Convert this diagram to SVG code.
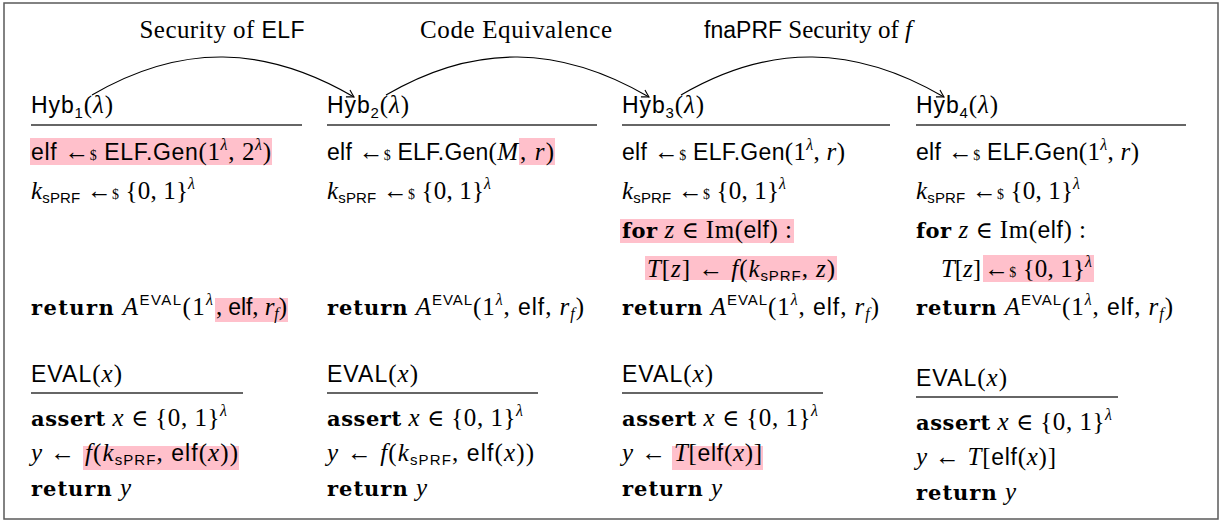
<svg xmlns="http://www.w3.org/2000/svg" width="1225" height="522" viewBox="0 0 1225 522">
<defs>
<style>
text{font-family:"Liberation Serif",serif;font-size:25px;fill:#000}
.s{font-family:"Liberation Sans",sans-serif;font-size:23px}
.i{font-style:italic}
.b{font-family:"DejaVu Serif",serif;font-weight:bold;font-size:21px}
.sub{font-family:"Liberation Sans",sans-serif;font-size:15px}
.sup{font-size:16px}
.sups{font-family:"Liberation Sans",sans-serif;font-size:15px}
.dol{font-size:14px}
.el{font-family:"DejaVu Serif",serif;font-size:23px}
.hl{fill:#ffc0cb}
.rule{stroke:#333;stroke-width:1.4}
.arc{fill:none;stroke:#000;stroke-width:1.2}
</style>
<marker id="ah" markerWidth="12" markerHeight="12" refX="0" refY="0" viewBox="-8 -6 10 12" orient="auto" markerUnits="userSpaceOnUse">
<path d="M-7,-4 Q-2,-1 0,0 Q-2,1 -7,4" fill="none" stroke="#000" stroke-width="1.1"/>
</marker>
</defs>
<rect x="4" y="3" width="1214" height="516" fill="#fff" stroke="#5a5a5a" stroke-width="1.5"/>

<g id="labels">
<text x="222" y="38" text-anchor="middle" textLength="165">Security of <tspan class="s">ELF</tspan></text>
<text x="516" y="38" text-anchor="middle" textLength="192">Code Equivalence</text>
<text x="808" y="38" text-anchor="middle"><tspan class="s" font-size="22">fnaPRF</tspan> Security of <tspan class="i">f</tspan></text>
</g>

<g id="connectors">
<path class="arc" d="M92,95 C181,43 265,45 354,97" marker-end="url(#ah)"/>
<path class="arc" d="M386,95 C475,43 560,45 649,97" marker-end="url(#ah)"/>
<path class="arc" d="M681,95 C770,43 855,45 944,97" marker-end="url(#ah)"/>
</g>

<g id="highlights">
<rect class="hl" x="30" y="138" width="242" height="27"/>
<rect class="hl" x="519" y="138" width="36" height="27"/>
<rect class="hl" x="215" y="298" width="73" height="24"/>
<rect class="hl" x="620" y="219" width="174" height="24"/>
<rect class="hl" x="645" y="256" width="192" height="24"/>
<rect class="hl" x="983" y="255" width="111" height="27"/>
<rect class="hl" x="83" y="446" width="156" height="24"/>
<rect class="hl" x="672" y="446" width="91" height="24"/>
</g>

<g id="hyb1">
<text x="31" y="113" textLength="82"><tspan class="s">Hyb</tspan><tspan class="sub" dy="5">1</tspan><tspan dy="-5">(</tspan><tspan class="i">λ</tspan>)</text>
<line class="rule" x1="31" y1="125" x2="302" y2="125"/>
<text x="31" y="160" textLength="240"><tspan class="s">elf</tspan> ←<tspan class="dol">$</tspan> <tspan class="s">ELF.Gen</tspan>(1<tspan class="i sup" dy="-10">λ</tspan><tspan dy="10">, 2</tspan><tspan class="i sup" dy="-10">λ</tspan><tspan dy="10">)</tspan></text>
<text x="31" y="199" textLength="164"><tspan class="i">k</tspan><tspan class="sub" dy="4">sPRF</tspan><tspan dy="-4"> ←</tspan><tspan class="dol">$</tspan> {0, 1}<tspan class="i sup" dy="-10">λ</tspan></text>
<text x="31" y="315" textLength="182"><tspan class="b">return</tspan> <tspan class="i">A</tspan><tspan class="sups" dy="-10">EVAL</tspan><tspan dy="10">(1</tspan><tspan class="i sup" dy="-10">λ</tspan></text>
<text x="216" y="315" textLength="71">, <tspan class="s">elf</tspan>, <tspan class="i">r</tspan><tspan class="i sup" dy="4">f</tspan><tspan dy="-4">)</tspan></text>
<text x="31" y="382" textLength="91"><tspan class="s">EVAL</tspan>(<tspan class="i">x</tspan>)</text>
<line class="rule" x1="31" y1="393" x2="243" y2="393"/>
<text x="31" y="426" textLength="196"><tspan class="b">assert</tspan> <tspan class="i">x</tspan> <tspan class="el">∈</tspan> {0, 1}<tspan class="i sup" dy="-10">λ</tspan></text>
<text x="31" y="461" textLength="44"><tspan class="i">y</tspan> ←</text>
<text x="85" y="461" textLength="153"><tspan class="i">f</tspan>(<tspan class="i">k</tspan><tspan class="sub" dy="4">sPRF</tspan><tspan dy="-4">, </tspan><tspan class="s">elf</tspan>(<tspan class="i">x</tspan>))</text>
<text x="31" y="496" textLength="100"><tspan class="b">return</tspan> <tspan class="i">y</tspan></text>
</g>

<g id="hyb2">
<text x="327" y="113" textLength="82"><tspan class="s">Hyb</tspan><tspan class="sub" dy="5">2</tspan><tspan dy="-5">(</tspan><tspan class="i">λ</tspan>)</text>
<line class="rule" x1="327" y1="125" x2="597" y2="125"/>
<text x="327" y="160" textLength="191"><tspan class="s">elf</tspan> ←<tspan class="dol">$</tspan> <tspan class="s">ELF.Gen</tspan>(<tspan class="i">M</tspan></text>
<text x="520" y="160" textLength="34">, <tspan class="i">r</tspan>)</text>
<text x="327" y="199" textLength="164"><tspan class="i">k</tspan><tspan class="sub" dy="4">sPRF</tspan><tspan dy="-4"> ←</tspan><tspan class="dol">$</tspan> {0, 1}<tspan class="i sup" dy="-10">λ</tspan></text>
<text x="327" y="315" textLength="257"><tspan class="b">return</tspan> <tspan class="i">A</tspan><tspan class="sups" dy="-10">EVAL</tspan><tspan dy="10">(1</tspan><tspan class="i sup" dy="-10">λ</tspan><tspan dy="10">, </tspan><tspan class="s">elf</tspan>, <tspan class="i">r</tspan><tspan class="i sup" dy="4">f</tspan><tspan dy="-4">)</tspan></text>
<text x="327" y="382" textLength="91"><tspan class="s">EVAL</tspan>(<tspan class="i">x</tspan>)</text>
<line class="rule" x1="327" y1="393" x2="538" y2="393"/>
<text x="327" y="426" textLength="196"><tspan class="b">assert</tspan> <tspan class="i">x</tspan> <tspan class="el">∈</tspan> {0, 1}<tspan class="i sup" dy="-10">λ</tspan></text>
<text x="327" y="461" textLength="207"><tspan class="i">y</tspan> ← <tspan class="i">f</tspan>(<tspan class="i">k</tspan><tspan class="sub" dy="4">sPRF</tspan><tspan dy="-4">, </tspan><tspan class="s">elf</tspan>(<tspan class="i">x</tspan>))</text>
<text x="327" y="496" textLength="100"><tspan class="b">return</tspan> <tspan class="i">y</tspan></text>
</g>

<g id="hyb3">
<text x="622" y="113" textLength="82"><tspan class="s">Hyb</tspan><tspan class="sub" dy="5">3</tspan><tspan dy="-5">(</tspan><tspan class="i">λ</tspan>)</text>
<line class="rule" x1="622" y1="125" x2="890" y2="125"/>
<text x="622" y="160" textLength="223"><tspan class="s">elf</tspan> ←<tspan class="dol">$</tspan> <tspan class="s">ELF.Gen</tspan>(1<tspan class="i sup" dy="-10">λ</tspan><tspan dy="10">, </tspan><tspan class="i">r</tspan>)</text>
<text x="622" y="199" textLength="164"><tspan class="i">k</tspan><tspan class="sub" dy="4">sPRF</tspan><tspan dy="-4"> ←</tspan><tspan class="dol">$</tspan> {0, 1}<tspan class="i sup" dy="-10">λ</tspan></text>
<text x="622" y="238" textLength="170"><tspan class="b">for</tspan> <tspan class="i">z</tspan> <tspan class="el">∈</tspan> Im(<tspan class="s">elf</tspan>) :</text>
<text x="647" y="277" textLength="188"><tspan class="i">T</tspan>[<tspan class="i">z</tspan>] ← <tspan class="i">f</tspan>(<tspan class="i">k</tspan><tspan class="sub" dy="4">sPRF</tspan><tspan dy="-4">, </tspan><tspan class="i">z</tspan>)</text>
<text x="622" y="315" textLength="257"><tspan class="b">return</tspan> <tspan class="i">A</tspan><tspan class="sups" dy="-10">EVAL</tspan><tspan dy="10">(1</tspan><tspan class="i sup" dy="-10">λ</tspan><tspan dy="10">, </tspan><tspan class="s">elf</tspan>, <tspan class="i">r</tspan><tspan class="i sup" dy="4">f</tspan><tspan dy="-4">)</tspan></text>
<text x="622" y="382" textLength="91"><tspan class="s">EVAL</tspan>(<tspan class="i">x</tspan>)</text>
<line class="rule" x1="622" y1="393" x2="823" y2="393"/>
<text x="622" y="426" textLength="196"><tspan class="b">assert</tspan> <tspan class="i">x</tspan> <tspan class="el">∈</tspan> {0, 1}<tspan class="i sup" dy="-10">λ</tspan></text>
<text x="622" y="461" textLength="44"><tspan class="i">y</tspan> ←</text>
<text x="674" y="461" textLength="88"><tspan class="i">T</tspan>[<tspan class="s">elf</tspan>(<tspan class="i">x</tspan>)]</text>
<text x="622" y="496" textLength="100"><tspan class="b">return</tspan> <tspan class="i">y</tspan></text>
</g>

<g id="hyb4">
<text x="916" y="113" textLength="82"><tspan class="s">Hyb</tspan><tspan class="sub" dy="5">4</tspan><tspan dy="-5">(</tspan><tspan class="i">λ</tspan>)</text>
<line class="rule" x1="916" y1="125" x2="1186" y2="125"/>
<text x="916" y="160" textLength="223"><tspan class="s">elf</tspan> ←<tspan class="dol">$</tspan> <tspan class="s">ELF.Gen</tspan>(1<tspan class="i sup" dy="-10">λ</tspan><tspan dy="10">, </tspan><tspan class="i">r</tspan>)</text>
<text x="916" y="199" textLength="164"><tspan class="i">k</tspan><tspan class="sub" dy="4">sPRF</tspan><tspan dy="-4"> ←</tspan><tspan class="dol">$</tspan> {0, 1}<tspan class="i sup" dy="-10">λ</tspan></text>
<text x="916" y="238" textLength="170"><tspan class="b">for</tspan> <tspan class="i">z</tspan> <tspan class="el">∈</tspan> Im(<tspan class="s">elf</tspan>) :</text>
<text x="941" y="277" textLength="40"><tspan class="i">T</tspan>[<tspan class="i">z</tspan>]</text>
<text x="984" y="277" textLength="108">←<tspan class="dol">$</tspan> {0, 1}<tspan class="i sup" dy="-10">λ</tspan></text>
<text x="916" y="315" textLength="257"><tspan class="b">return</tspan> <tspan class="i">A</tspan><tspan class="sups" dy="-10">EVAL</tspan><tspan dy="10">(1</tspan><tspan class="i sup" dy="-10">λ</tspan><tspan dy="10">, </tspan><tspan class="s">elf</tspan>, <tspan class="i">r</tspan><tspan class="i sup" dy="4">f</tspan><tspan dy="-4">)</tspan></text>
<text x="916" y="386" textLength="91"><tspan class="s">EVAL</tspan>(<tspan class="i">x</tspan>)</text>
<line class="rule" x1="916" y1="397" x2="1118" y2="397"/>
<text x="916" y="430" textLength="196"><tspan class="b">assert</tspan> <tspan class="i">x</tspan> <tspan class="el">∈</tspan> {0, 1}<tspan class="i sup" dy="-10">λ</tspan></text>
<text x="916" y="465" textLength="140"><tspan class="i">y</tspan> ← <tspan class="i">T</tspan>[<tspan class="s">elf</tspan>(<tspan class="i">x</tspan>)]</text>
<text x="916" y="500" textLength="100"><tspan class="b">return</tspan> <tspan class="i">y</tspan></text>
</g>
</svg>
